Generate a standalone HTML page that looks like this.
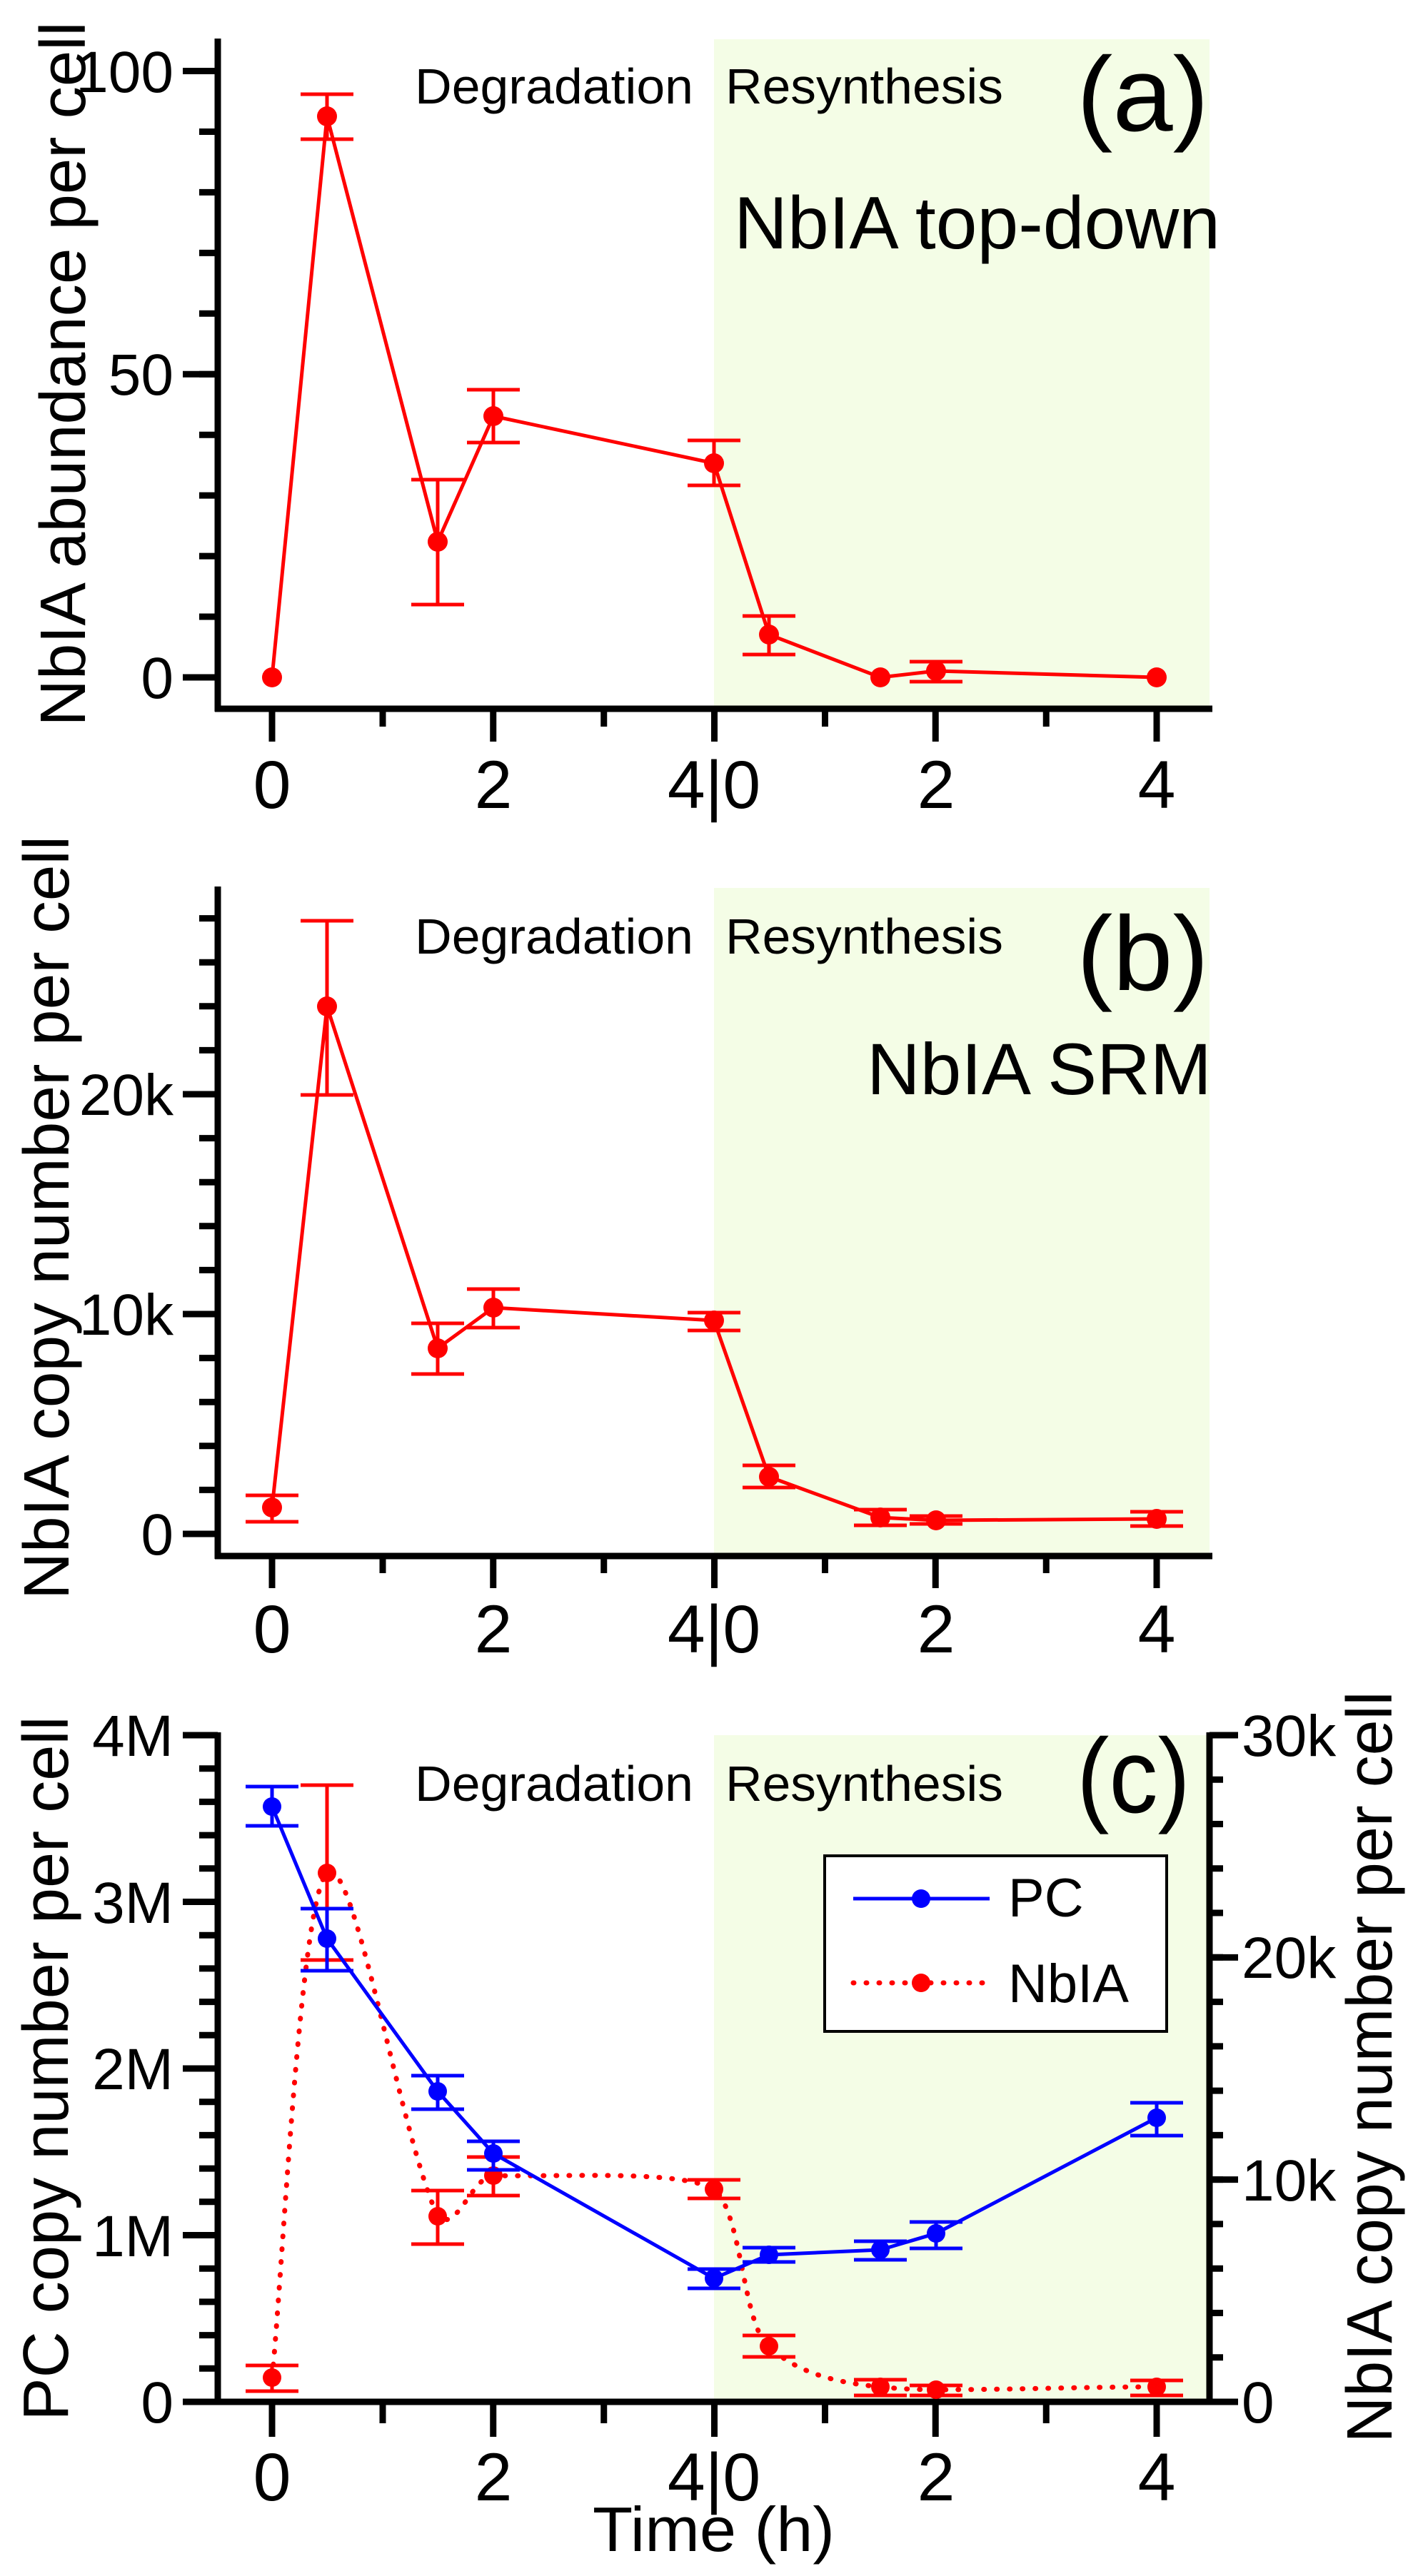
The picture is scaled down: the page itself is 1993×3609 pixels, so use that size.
<!DOCTYPE html>
<html><head><meta charset="utf-8"><style>
html,body{margin:0;padding:0;background:#fff;}
svg{display:block;}
text{font-family:"Liberation Sans",Arial,sans-serif;fill:#000;}
</style></head><body>
<svg width="1993" height="3609" viewBox="0 0 1993 3609" xmlns="http://www.w3.org/2000/svg">
<rect width="1993" height="3609" fill="#fff"/>
<rect x="1000" y="55" width="694" height="938" fill="#f4fde6"/>
<rect x="1000" y="1244" width="694" height="936" fill="#f4fde6"/>
<rect x="1000" y="2431" width="694" height="934" fill="#f4fde6"/>

<g stroke="#000" fill="none">
<line x1="305" y1="54" x2="305" y2="997" stroke-width="9"/>
<line x1="301" y1="993" x2="1698" y2="993" stroke-width="9"/>
<line x1="292" y1="953.5" x2="292" y2="95" stroke-width="26" stroke-dasharray="9 75.95"/>
<line x1="280.5" y1="953.5" x2="280.5" y2="95" stroke-width="49" stroke-dasharray="9 415.75"/>
<line x1="376.5" y1="1016" x2="1626" y2="1016" stroke-width="46" stroke-dasharray="9 300.75"/>
<line x1="531.5" y1="1005.5" x2="1471" y2="1005.5" stroke-width="25" stroke-dasharray="9 300.75"/>
<line x1="305" y1="1242" x2="305" y2="2184" stroke-width="9"/>
<line x1="301" y1="2180" x2="1698" y2="2180" stroke-width="9"/>
<line x1="292" y1="2153.5" x2="292" y2="1282" stroke-width="26" stroke-dasharray="9 52.6"/>
<line x1="280.5" y1="2153.5" x2="280.5" y2="1500" stroke-width="49" stroke-dasharray="9 299"/>
<line x1="376.5" y1="2202.5" x2="1626" y2="2202.5" stroke-width="45" stroke-dasharray="9 300.75"/>
<line x1="531.5" y1="2192" x2="1471" y2="2192" stroke-width="24" stroke-dasharray="9 300.75"/>
<line x1="305" y1="2427" x2="305" y2="3369" stroke-width="9"/>
<line x1="1694" y1="2427" x2="1694" y2="3369" stroke-width="9"/>
<line x1="301" y1="3365" x2="1698" y2="3365" stroke-width="9"/>
<line x1="292" y1="3369.5" x2="292" y2="2426" stroke-width="26" stroke-dasharray="9 37.7"/>
<line x1="280.5" y1="3369.5" x2="280.5" y2="2426" stroke-width="49" stroke-dasharray="9 224.5"/>
<line x1="1703.5" y1="3369.5" x2="1703.5" y2="2426" stroke-width="19" stroke-dasharray="9 53.27"/>
<line x1="1714" y1="3369.5" x2="1714" y2="2426" stroke-width="40" stroke-dasharray="9 302.33"/>
<line x1="376.5" y1="3389.5" x2="1626" y2="3389.5" stroke-width="49" stroke-dasharray="9 300.75"/>
<line x1="531.5" y1="3380" x2="1471" y2="3380" stroke-width="30" stroke-dasharray="9 300.75"/>
</g>

<text transform="translate(119,524) rotate(-90)" font-size="90" text-anchor="middle" textLength="987" lengthAdjust="spacingAndGlyphs">NbIA abundance per cell</text>
<text transform="translate(96,1706) rotate(-90)" font-size="90" text-anchor="middle" textLength="1070" lengthAdjust="spacingAndGlyphs">NbIA copy number per cell</text>
<text transform="translate(95,2898) rotate(-90)" font-size="90" text-anchor="middle" textLength="987" lengthAdjust="spacingAndGlyphs">PC copy number per cell</text>
<text transform="translate(1949,2896) rotate(-90)" font-size="90" text-anchor="middle" textLength="1053" lengthAdjust="spacingAndGlyphs">NbIA copy number per cell</text>

<g font-size="82" text-anchor="end">
<text x="243" y="129">100</text>
<text x="243" y="553">50</text>
<text x="243" y="978">0</text>
<text x="243" y="1562">20k</text>
<text x="243" y="1870">10k</text>
<text x="243" y="2178">0</text>
<text x="243" y="2460">4M</text>
<text x="243" y="2694">3M</text>
<text x="243" y="2927">2M</text>
<text x="243" y="3161">1M</text>
<text x="243" y="3394">0</text>
</g>
<g font-size="82" text-anchor="start">
<text x="1739" y="2460">30k</text>
<text x="1739" y="2771">20k</text>
<text x="1739" y="3083">10k</text>
<text x="1739" y="3394">0</text>
</g>
<g font-size="95" text-anchor="middle">
<text x="381" y="1132">0</text><text x="691" y="1132">2</text><text x="1000" y="1132">4|0</text><text x="1311" y="1132">2</text><text x="1620" y="1132">4</text>
<text x="381" y="2315">0</text><text x="691" y="2315">2</text><text x="1000" y="2315">4|0</text><text x="1311" y="2315">2</text><text x="1620" y="2315">4</text>
<text x="381" y="3503">0</text><text x="691" y="3503">2</text><text x="1000" y="3503">4|0</text><text x="1311" y="3503">2</text><text x="1620" y="3503">4</text>
</g>
<text x="830" y="3574" font-size="88" textLength="339" lengthAdjust="spacingAndGlyphs">Time (h)</text>

<g font-size="70">
<text x="581" y="145" textLength="390" lengthAdjust="spacingAndGlyphs">Degradation</text>
<text x="1016" y="145" textLength="389" lengthAdjust="spacingAndGlyphs">Resynthesis</text>
<text x="581" y="1336" textLength="390" lengthAdjust="spacingAndGlyphs">Degradation</text>
<text x="1016" y="1336" textLength="389" lengthAdjust="spacingAndGlyphs">Resynthesis</text>
<text x="581" y="2523" textLength="390" lengthAdjust="spacingAndGlyphs">Degradation</text>
<text x="1016" y="2523" textLength="389" lengthAdjust="spacingAndGlyphs">Resynthesis</text>
</g>
<text x="1508" y="183" font-size="148" textLength="185" lengthAdjust="spacingAndGlyphs">(a)</text>
<text x="1508" y="1387" font-size="148" textLength="185" lengthAdjust="spacingAndGlyphs">(b)</text>
<text x="1508" y="2539" font-size="148" textLength="159" lengthAdjust="spacingAndGlyphs">(c)</text>
<text x="1028" y="348" font-size="104" textLength="681" lengthAdjust="spacingAndGlyphs">NbIA top-down</text>
<text x="1214" y="1533" font-size="102" textLength="483" lengthAdjust="spacingAndGlyphs">NbIA SRM</text>

<g stroke="#ff0000" stroke-width="5" fill="none">
<polyline points="381,949 458,163 613,759 691,583 1000,649 1077,889 1233,949 1311,940 1620,949"/>
<path d="M458,132V195M421,132H495M421,195H495
M613,672V847M576,672H650M576,847H650
M691,546V620M654,546H728M654,620H728
M1000,617V680M963,617H1037M963,680H1037
M1077,863V917M1040,863H1114M1040,917H1114
M1311,927V955M1274,927H1348M1274,955H1348"/>
</g>
<g fill="#ff0000">
<circle cx="381" cy="949" r="14"/><circle cx="458" cy="163" r="14"/><circle cx="613" cy="759" r="14"/><circle cx="691" cy="583" r="14"/><circle cx="1000" cy="649" r="14"/><circle cx="1077" cy="889" r="14"/><circle cx="1233" cy="949" r="14"/><circle cx="1311" cy="940" r="14"/><circle cx="1620" cy="949" r="14"/>
</g>

<g stroke="#ff0000" stroke-width="5" fill="none">
<polyline points="381,2112 458,1410 613,1889 691,1832 1000,1850 1077,2069 1233,2126 1311,2130 1620,2128"/>
<path d="M381,2095V2132M344,2095H418M344,2132H418
M458,1290V1534M421,1290H495M421,1534H495
M613,1854V1925M576,1854H650M576,1925H650
M691,1806V1860M654,1806H728M654,1860H728
M1000,1839V1864M963,1839H1037M963,1864H1037
M1077,2053V2084M1040,2053H1114M1040,2084H1114
M1233,2115V2137M1196,2115H1270M1196,2137H1270
M1311,2124V2135M1274,2124H1348M1274,2135H1348
M1620,2118V2138M1583,2118H1657M1583,2138H1657"/>
</g>
<g fill="#ff0000">
<circle cx="381" cy="2112" r="14"/><circle cx="458" cy="1410" r="14"/><circle cx="613" cy="1889" r="14"/><circle cx="691" cy="1832" r="14"/><circle cx="1000" cy="1850" r="14"/><circle cx="1077" cy="2069" r="14"/><circle cx="1233" cy="2126" r="14"/><circle cx="1311" cy="2130" r="14"/><circle cx="1620" cy="2128" r="14"/>
</g>

<g stroke="#ff0000" stroke-width="5" fill="none">
<path d="M381,3331 C395,3200 420,2660 458,2624 C495,2590 560,2990 613,3105 C640,3130 660,3050 691,3048 C800,3050 950,3040 1000,3067 C1040,3100 1040,3260 1077,3287 C1120,3330 1190,3340 1233,3344 C1260,3347 1290,3348 1311,3348 C1420,3348 1520,3344 1620,3344" stroke-width="7" stroke-dasharray="1 17" stroke-linecap="round"/>
<path d="M381,3314V3350M344,3314H418M344,3350H418
M458,2501V2746M421,2501H495M421,2746H495
M613,3069V3144M576,3069H650M576,3144H650
M691,3022V3076M654,3022H728M654,3076H728
M1000,3054V3080M963,3054H1037M963,3080H1037
M1077,3272V3302M1040,3272H1114M1040,3302H1114
M1233,3334V3356M1196,3334H1270M1196,3356H1270
M1311,3342V3356M1274,3342H1348M1274,3356H1348
M1620,3335V3356M1583,3335H1657M1583,3356H1657"/>
</g>
<g fill="#ff0000">
<circle cx="381" cy="3331" r="13"/><circle cx="458" cy="2624" r="13"/><circle cx="613" cy="3105" r="13"/><circle cx="691" cy="3048" r="13"/><circle cx="1000" cy="3067" r="13"/><circle cx="1077" cy="3287" r="13"/><circle cx="1233" cy="3344" r="13"/><circle cx="1311" cy="3348" r="13"/><circle cx="1620" cy="3344" r="13"/>
</g>
<g stroke="#0000ff" stroke-width="5" fill="none">
<polyline points="381,2531 458,2716 613,2930 691,3017 1000,3192 1077,3159 1233,3152 1311,3129 1620,2967"/>
<path d="M381,2503V2558M344,2503H418M344,2558H418
M458,2674V2761M421,2674H495M421,2761H495
M613,2908V2955M576,2908H650M576,2955H650
M691,3000V3040M654,3000H728M654,3040H728
M1000,3179V3206M963,3179H1037M963,3206H1037
M1077,3149V3169M1040,3149H1114M1040,3169H1114
M1233,3140V3166M1196,3140H1270M1196,3166H1270
M1311,3113V3150M1274,3113H1348M1274,3150H1348
M1620,2946V2992M1583,2946H1657M1583,2992H1657"/>
</g>
<g fill="#0000ff">
<circle cx="381" cy="2531" r="13"/><circle cx="458" cy="2716" r="13"/><circle cx="613" cy="2930" r="13"/><circle cx="691" cy="3017" r="13"/><circle cx="1000" cy="3192" r="13"/><circle cx="1077" cy="3159" r="13"/><circle cx="1233" cy="3152" r="13"/><circle cx="1311" cy="3129" r="13"/><circle cx="1620" cy="2967" r="13"/>
</g>

<rect x="1155" y="2600" width="479" height="246" fill="#fff" stroke="#000" stroke-width="4"/>
<line x1="1195" y1="2660" x2="1386" y2="2660" stroke="#0000ff" stroke-width="5"/>
<circle cx="1290" cy="2660" r="13" fill="#0000ff"/>
<line x1="1195" y1="2778" x2="1386" y2="2778" stroke="#ff0000" stroke-width="7" stroke-dasharray="1 17" stroke-linecap="round"/>
<circle cx="1290" cy="2778" r="13" fill="#ff0000"/>
<text x="1412" y="2685" font-size="76">PC</text>
<text x="1412" y="2805" font-size="76">NbIA</text>
</svg>
</body></html>
